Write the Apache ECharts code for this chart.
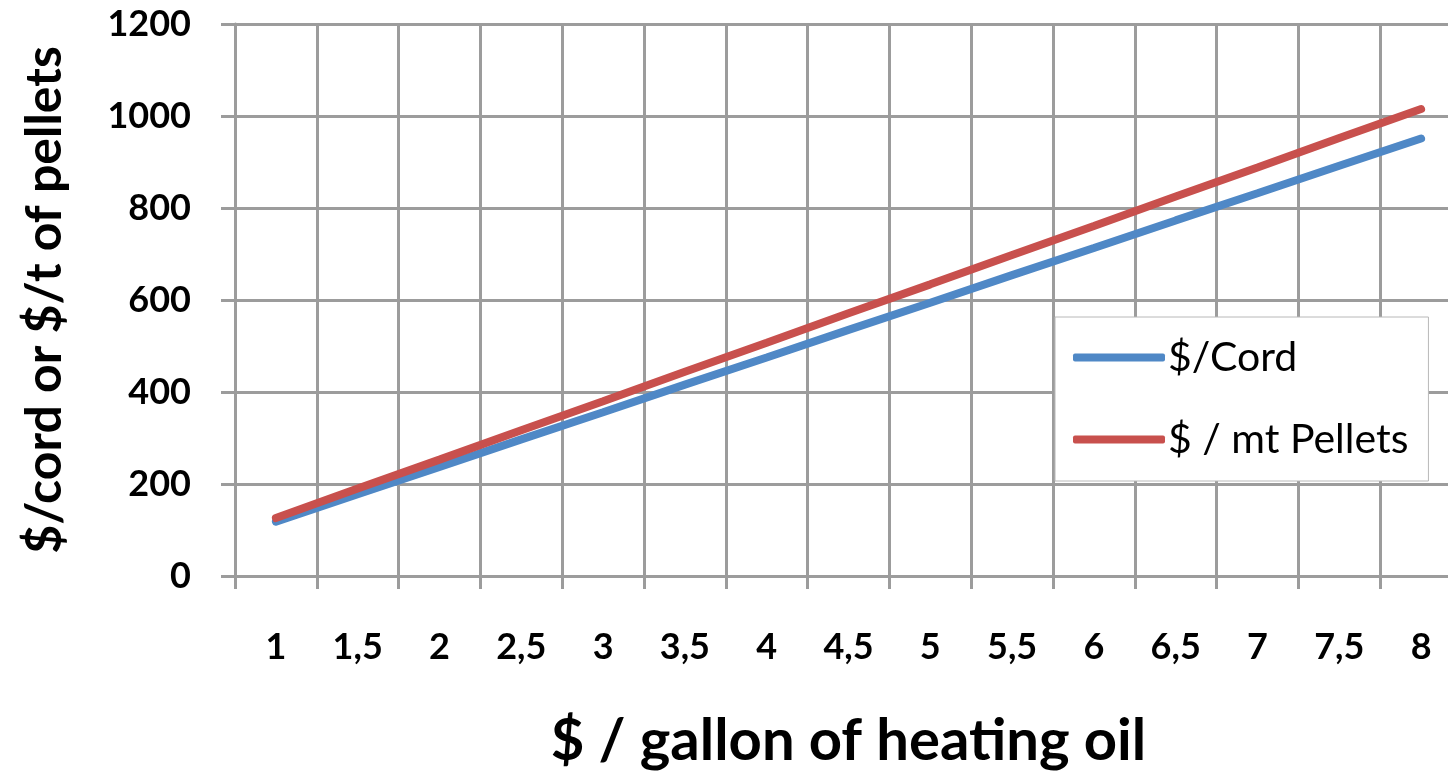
<!DOCTYPE html>
<html>
<head>
<meta charset="utf-8">
<script src="https://cdn.jsdelivr.net/npm/echarts@6/dist/echarts.min.js"></script>
<style>html,body{margin:0;padding:0;background:#fff;overflow:hidden;width:1448px;height:777px;}#c{width:1462px;height:777px;}</style>
</head>
<body>
<div id="c"></div>
<script>
const categories = ['1','1,5','2','2,5','3','3,5','4','4,5','5','5,5','6','6,5','7','7,5','8'];
const cordValues = [118, 178, 237, 297, 356, 416, 475, 535, 594, 654, 713, 773, 832, 892, 951];
const pelletValues = [126, 190, 253, 317, 380, 444, 507, 571, 634, 698, 761, 825, 888, 952, 1015];
const yTicks = { min: 0, max: 1200, interval: 200 };

const FONT = 'Lato, "Open Sans", sans-serif';
const GRID = '#9c9c9c';
const chart = echarts.init(document.getElementById('c'), null, { renderer: 'canvas' });
chart.setOption({
  backgroundColor: '#ffffff',
  animation: false,
  grid: { left: 235, top: 24, bottom: 201, right: 0, containLabel: false },
  legend: {
    orient: 'vertical',
    left: 1055,
    top: 317,
    padding: [20, 20, 21, 18],
    backgroundColor: '#ffffff',
    borderColor: '#b8b8b8',
    borderWidth: 1,
    itemWidth: 92,
    itemHeight: 8,
    itemGap: 41,
    icon: 'roundRect',
    textStyle: { fontFamily: FONT, fontSize: 41, color: '#000', padding: [0, 0, 0, -2] },
    data: ['$/Cord', '$ / mt Pellets']
  },
  xAxis: {
    type: 'category',
    data: categories,
    boundaryGap: true,
    name: '$ / gallon of heating oil',
    nameLocation: 'middle',
    nameGap: 136,
    nameTextStyle: { fontFamily: FONT, fontSize: 58, fontWeight: 'bold', color: '#000' },
    axisLine: { show: true, lineStyle: { color: GRID, width: 3 } },
    axisTick: { show: true, length: 13, lineStyle: { color: GRID, width: 3 } },
    axisLabel: { margin: 53, fontFamily: FONT, fontSize: 36, fontWeight: 'bold', color: '#000' },
    splitLine: { show: true, lineStyle: { color: GRID, width: 3 } }
  },
  yAxis: {
    type: 'value',
    min: yTicks.min,
    max: yTicks.max,
    interval: yTicks.interval,
    name: '$/cord or $/t of pellets',
    nameLocation: 'middle',
    nameGap: 165,
    nameTextStyle: { fontFamily: FONT, fontSize: 50, fontWeight: 'bold', color: '#000' },
    axisLine: { show: true, lineStyle: { color: GRID, width: 3 } },
    axisTick: { show: true, length: 14, lineStyle: { color: GRID, width: 3 } },
    axisLabel: { margin: 44, fontFamily: FONT, fontSize: 36, fontWeight: 'bold', color: '#000', formatter: function (v) { return String(v); } },
    splitLine: { show: true, lineStyle: { color: GRID, width: 3 } }
  },
  series: [
    {
      name: '$/Cord',
      type: 'line',
      data: cordValues,
      showSymbol: false,
      symbol: 'none',
      color: '#4f88c6',
      lineStyle: { width: 8, color: '#4f88c6', cap: 'round' },
      clip: false
    },
    {
      name: '$ / mt Pellets',
      type: 'line',
      data: pelletValues,
      showSymbol: false,
      symbol: 'none',
      color: '#c8504d',
      lineStyle: { width: 8, color: '#c8504d', cap: 'round' },
      clip: false
    }
  ]
});
</script>
</body>
</html>
